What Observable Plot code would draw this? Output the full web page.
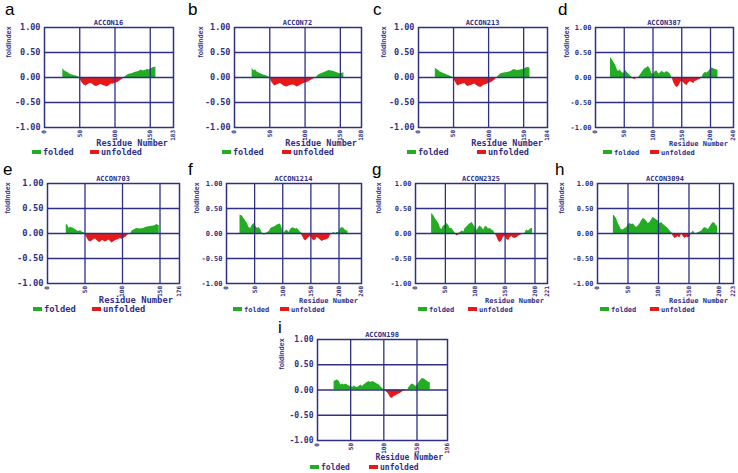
<!DOCTYPE html>
<html><head><meta charset="utf-8">
<script src="https://cdn.jsdelivr.net/npm/d3@7"></script>
<script src="https://cdn.jsdelivr.net/npm/@observablehq/plot@0.6"></script>
<style>
body{margin:0;background:#fff;}
#fig{position:relative;width:738px;height:473px;overflow:hidden;background:#fff;}
#fig > svg, #fig > figure{position:absolute;margin:0;}
</style></head><body><div id="fig"></div><script>
// ---------- data ----------
const panelLetters = ["a","b","c","d","e","f","g","h","i"];
const titles = ["ACCON16","ACCON72","ACCON213","ACCON387","ACCON703","ACCON1214","ACCON2325","ACCON3094","ACCON198"];
const maxResidue = [183,180,184,240,176,240,221,223,196];
const xTickBase = [0,50,100,150,200];
const yTicks = [-1,-0.5,0,0.5,1];
const legendLabels = ["folded","unfolded"];

const accon16 = [[26,0.18],[28,0.14],[30,0.12],[33,0.10],[36,0.07],[39,0.05],[42,0.04],[45,0.03],[48,0.01],[50,-0.02],[53,-0.10],[56,-0.15],[59,-0.17],[62,-0.14],[65,-0.12],[68,-0.13],[71,-0.17],[74,-0.18],[77,-0.16],[80,-0.14],[83,-0.16],[86,-0.17],[89,-0.19],[92,-0.16],[95,-0.13],[98,-0.13],[101,-0.11],[104,-0.10],[107,-0.07],[110,-0.04],[113,-0.01],[116,0.03],[119,0.06],[122,0.07],[125,0.08],[128,0.10],[131,0.11],[134,0.12],[137,0.15],[140,0.13],[143,0.14],[146,0.16],[149,0.15],[152,0.18],[155,0.20],[158,0.21]];
const accon72 = [[25,0.19],[27,0.14],[30,0.15],[32,0.11],[35,0.09],[38,0.07],[41,0.05],[44,0.04],[47,0.02],[50,0.0],[53,-0.10],[57,-0.17],[60,-0.15],[65,-0.12],[70,-0.17],[74,-0.19],[79,-0.16],[84,-0.15],[89,-0.19],[93,-0.16],[98,-0.12],[103,-0.10],[107,-0.07],[112,-0.03],[116,0.0],[119,0.05],[124,0.08],[129,0.11],[134,0.14],[138,0.13],[143,0.11],[148,0.08],[151,0.07],[153,0.09],[155,0.09]];
const accon213 = [[24,0.19],[26,0.16],[29,0.14],[31,0.11],[33,0.10],[36,0.08],[38,0.07],[41,0.05],[45,0.03],[49,0.0],[53,-0.10],[56,-0.17],[61,-0.14],[66,-0.12],[70,-0.18],[75,-0.16],[80,-0.13],[85,-0.18],[89,-0.20],[94,-0.15],[99,-0.13],[104,-0.10],[109,-0.05],[112,0.0],[117,0.07],[122,0.09],[127,0.10],[132,0.12],[136,0.16],[141,0.14],[146,0.15],[151,0.17],[155,0.20],[159,0.19]];
const accon387 = [[26,0.40],[29,0.36],[32,0.30],[35,0.25],[38,0.15],[40,0.12],[43,0.15],[46,0.10],[49,0.08],[52,0.15],[55,0.10],[58,0.07],[61,0.03],[64,0.0],[66,-0.03],[69,-0.04],[72,0.0],[75,-0.01],[78,0.05],[81,0.10],[84,0.15],[87,0.18],[90,0.20],[92,0.22],[95,0.17],[98,0.08],[101,0.06],[104,0.12],[107,0.13],[110,0.07],[113,0.09],[116,0.13],[118,0.10],[121,0.09],[124,0.12],[127,0.10],[130,0.07],[133,0.0],[136,-0.10],[139,-0.17],[142,-0.20],[145,-0.17],[147,-0.12],[150,-0.07],[153,-0.10],[156,-0.14],[159,-0.16],[162,-0.11],[165,-0.08],[168,-0.10],[171,-0.12],[173,-0.08],[176,-0.07],[179,-0.05],[182,-0.04],[185,0.0],[188,0.07],[191,0.10],[194,0.09],[197,0.12],[199,0.15],[202,0.19],[205,0.18],[208,0.16],[211,0.15],[213,0.15]];
const accon703 = [[25,0.19],[27,0.16],[29,0.10],[31,0.13],[33,0.11],[35,0.10],[38,0.07],[40,0.05],[42,0.04],[44,0.06],[46,0.03],[49,0.01],[51,-0.03],[53,-0.10],[55,-0.15],[58,-0.17],[60,-0.14],[62,-0.12],[64,-0.11],[66,-0.14],[69,-0.18],[71,-0.17],[73,-0.14],[75,-0.15],[77,-0.17],[80,-0.15],[82,-0.13],[84,-0.16],[86,-0.19],[88,-0.17],[91,-0.14],[93,-0.13],[95,-0.12],[97,-0.10],[100,-0.12],[102,-0.09],[104,-0.08],[106,-0.05],[108,-0.02],[111,0.0],[113,0.05],[115,0.07],[119,0.10],[124,0.09],[128,0.10],[133,0.13],[137,0.14],[142,0.15],[146,0.18],[148,0.16],[149,0.16]];
const accon1214 = [[24,0.37],[28,0.35],[31,0.30],[34,0.25],[37,0.20],[40,0.12],[43,0.10],[46,0.17],[49,0.20],[52,0.15],[55,0.10],[58,0.12],[61,0.07],[64,0.0],[67,-0.03],[70,-0.02],[73,0.02],[76,0.04],[79,0.10],[82,0.12],[85,0.13],[88,0.15],[90,0.17],[93,0.18],[96,0.19],[99,0.10],[102,0.0],[105,0.05],[108,0.07],[111,0.02],[114,0.08],[117,0.11],[120,0.11],[123,0.09],[126,0.10],[129,0.06],[132,0.02],[135,-0.05],[138,-0.12],[141,-0.15],[144,-0.11],[147,-0.08],[150,-0.05],[153,-0.12],[156,-0.15],[159,-0.12],[161,-0.08],[164,-0.10],[167,-0.13],[170,-0.16],[173,-0.14],[176,-0.13],[179,-0.12],[182,-0.10],[185,-0.03],[188,-0.01],[191,0.02],[194,0.0],[197,0.02],[200,0.02],[203,0.10],[206,0.12],[209,0.10],[211,0.07],[214,0.05],[216,0.05]];
const accon2325 = [[27,0.40],[31,0.35],[33,0.30],[36,0.25],[39,0.20],[42,0.10],[44,0.08],[47,0.15],[50,0.17],[53,0.20],[56,0.15],[58,0.10],[61,0.10],[64,0.05],[67,-0.02],[70,-0.05],[72,-0.03],[75,0.02],[78,0.05],[81,0.03],[83,0.10],[86,0.13],[89,0.17],[92,0.20],[95,0.22],[97,0.18],[100,0.12],[103,0.06],[106,0.12],[108,0.15],[111,0.12],[114,0.07],[117,0.14],[120,0.13],[122,0.09],[125,0.10],[128,0.07],[131,0.05],[133,0.0],[136,-0.06],[139,-0.15],[142,-0.18],[145,-0.14],[147,-0.08],[150,-0.05],[153,-0.12],[156,-0.14],[158,-0.09],[161,-0.06],[164,-0.09],[167,-0.10],[170,-0.08],[172,-0.06],[175,-0.04],[178,-0.02],[181,-0.02],[183,0.0],[186,0.07],[189,0.05],[192,0.08],[194,0.10],[196,0.10]];
const accon3094 = [[26,0.37],[28,0.35],[31,0.30],[34,0.20],[37,0.13],[39,0.08],[42,0.07],[45,0.10],[48,0.12],[50,0.17],[53,0.20],[56,0.18],[59,0.19],[61,0.16],[64,0.12],[67,0.15],[70,0.20],[72,0.25],[75,0.30],[78,0.28],[81,0.24],[83,0.20],[86,0.22],[89,0.28],[91,0.32],[94,0.30],[97,0.27],[100,0.25],[102,0.20],[105,0.22],[108,0.18],[111,0.15],[113,0.13],[116,0.10],[119,0.05],[122,0.01],[124,-0.05],[127,-0.10],[130,-0.08],[132,-0.06],[135,-0.09],[138,-0.01],[141,-0.07],[144,-0.10],[146,-0.07],[149,-0.09],[152,-0.06],[154,0.0],[157,0.05],[160,0.0],[163,-0.02],[165,0.02],[168,0.03],[171,0.05],[174,0.10],[176,0.12],[179,0.10],[182,0.08],[184,0.12],[187,0.18],[190,0.22],[193,0.20],[195,0.15],[197,0.15]];
const accon198 = [[25,0.17],[28,0.19],[30,0.20],[33,0.17],[35,0.10],[38,0.12],[40,0.10],[43,0.12],[45,0.10],[48,0.08],[50,0.07],[53,0.05],[55,0.08],[58,0.06],[60,0.05],[63,0.07],[65,0.10],[68,0.07],[70,0.10],[73,0.13],[75,0.15],[78,0.17],[80,0.15],[83,0.17],[85,0.16],[88,0.14],[90,0.12],[93,0.10],[95,0.07],[98,0.03],[100,0.01],[103,-0.03],[106,-0.06],[108,-0.10],[110,-0.15],[113,-0.17],[115,-0.13],[118,-0.12],[120,-0.10],[123,-0.08],[125,-0.07],[128,-0.04],[131,-0.02],[133,-0.01],[136,0.0],[138,0.05],[141,0.10],[143,0.12],[146,0.10],[148,0.07],[151,0.10],[153,0.15],[156,0.20],[158,0.23],[161,0.22],[163,0.20],[166,0.17],[168,0.15],[170,0.15]];
const series = [accon16, accon72, accon213, accon387, accon703, accon1214, accon2325, accon3094, accon198];

// ---------- layout & style ----------
const NAVY = "#2f2f85", GREEN = "#22ad22", RED = "#e81818";
const layout = [
  {L:44, T:27, R:173,B:127,lx:5,  ly:15, yl:8.5,  xr:168,xy:146,gx:32, gr:58,gy:152,fs:8.5},
  {L:234,T:27, R:361,B:127,lx:188,ly:15, yl:200,  xr:357,xy:146,gx:222,gr:60,gy:152,fs:8.5},
  {L:418,T:27, R:547,B:127,lx:373,ly:15, yl:383.5,xr:543,xy:146,gx:407,gr:70,gy:152,fs:8.5},
  {L:595,T:27, R:733,B:127,lx:558,ly:15, yl:566.5,xr:728,xy:146,gx:603,gr:47,gy:152,fs:7},
  {L:47, T:183,R:179,B:283,lx:3,  ly:175,yl:7,    xr:173,xy:303,gx:33, gr:59,gy:309,fs:8.8},
  {L:226,T:183,R:361,B:283,lx:188,ly:175,yl:196.5,xr:358,xy:303,gx:233,gr:47,gy:309,fs:7},
  {L:415,T:183,R:547,B:283,lx:372,ly:175,yl:378.5,xr:544,xy:303,gx:418,gr:50,gy:309,fs:7},
  {L:597,T:183,R:733,B:283,lx:555,ly:175,yl:561.5,xr:728,xy:303,gx:600,gr:50,gy:309,fs:7},
  {L:317,T:339,R:447,B:440,lx:278,ly:333,yl:281.5,xr:443,xy:460,gx:310,gr:59,gy:467,fs:8}
];

const fig = document.getElementById("fig");
const mL = 40, mR = 10, mT = 6, mB = 26;

layout.forEach((lay, i) => {
  const mx = maxResidue[i];
  const rows = series[i].map(([r, v]) => ({r, v}));
  const ticks = xTickBase.filter(t => t < mx).concat([mx]);
  const grid = ticks.filter(t => t > 0 && t < mx);
  const chart = Plot.plot({
    width: lay.R - lay.L + mL + mR,
    height: lay.B - lay.T + mT + mB,
    marginLeft: mL, marginRight: mR, marginTop: mT, marginBottom: mB,
    style: {fontFamily: "'DejaVu Sans Mono', monospace", fontWeight: "bold", fontSize: lay.fs + "px", color: NAVY, background: "transparent", overflow: "visible"},
    x: {domain: [0, mx]},
    y: {domain: [-1, 1]},
    marks: [
      Plot.areaY(rows, {x: "r", y: d => Math.max(0, d.v), fill: GREEN}),
      Plot.areaY(rows, {x: "r", y: d => Math.min(0, d.v), fill: RED}),
      Plot.gridX(grid, {stroke: NAVY, strokeOpacity: 1, strokeWidth: 1.3}),
      Plot.gridY([-0.5, 0, 0.5], {stroke: NAVY, strokeOpacity: 1, strokeWidth: 1.3}),
      Plot.frame({stroke: NAVY, strokeWidth: 1.5}),
      Plot.axisX(ticks, {tickRotate: -90, tickSize: 1, tickPadding: 1.5, fontSize: 6, label: null, tickFormat: d => String(d), stroke: NAVY}),
      Plot.axisY(yTicks, {tickSize: 0, tickPadding: 4, label: null, tickFormat: d => d.toFixed(2)})
    ]
  });
  chart.style.position = "absolute";
  chart.style.left = (lay.L - mL) + "px";
  chart.style.top = (lay.T - mT) + "px";
  fig.appendChild(chart);
});

// ---------- overlay: panel letters, titles, axis labels, legends ----------
const ov = d3.select(fig).append("svg")
  .attr("width", 738).attr("height", 473)
  .style("position", "absolute").style("left", "0px").style("top", "0px")
  .style("pointer-events", "none");

layout.forEach((lay, i) => {
  ov.append("text").attr("x", lay.lx).attr("y", lay.ly)
    .attr("font-family", "'Liberation Sans', Arial, sans-serif").attr("font-size", 17).attr("fill", "#000")
    .text(panelLetters[i]);
  ov.append("text").attr("x", (lay.L + lay.R) / 2).attr("y", lay.T - 2.5)
    .attr("text-anchor", "middle").attr("font-family", "'DejaVu Sans Mono', monospace").attr("font-weight", "bold")
    .attr("font-size", 7).attr("fill", NAVY).text(titles[i]);
  ov.append("text").attr("transform", `translate(${lay.yl + 2.5},${lay.T + 15}) rotate(-90)`)
    .attr("text-anchor", "middle").attr("font-family", "'Liberation Sans', Arial, sans-serif").attr("font-weight", "bold")
    .attr("font-size", 7).attr("fill", NAVY).text("foldIndex");
  ov.append("text").attr("x", lay.xr).attr("y", lay.xy)
    .attr("text-anchor", "end").attr("font-family", "'DejaVu Sans Mono', monospace").attr("font-weight", "bold")
    .attr("font-size", lay.fs).attr("fill", NAVY).text("Residue Number");
  [GREEN, RED].forEach((c, k) => {
    const x0 = lay.gx + (k ? lay.gr : 0);
    ov.append("rect").attr("x", x0).attr("y", lay.gy - 2).attr("width", 9).attr("height", 4).attr("fill", c);
    ov.append("text").attr("x", x0 + 11).attr("y", lay.gy + 3)
      .attr("font-family", "'DejaVu Sans Mono', monospace").attr("font-weight", "bold")
      .attr("font-size", lay.fs).attr("fill", NAVY).text(legendLabels[k]);
  });
});
</script></body></html>
